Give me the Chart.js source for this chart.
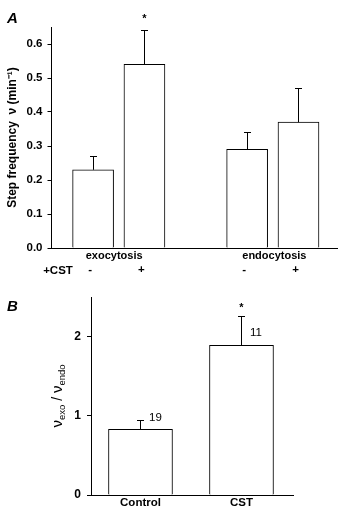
<!DOCTYPE html>
<html>
<head>
<meta charset="utf-8">
<script src="https://cdn.jsdelivr.net/npm/chart.js@4"></script>
<style>
  body { margin: 0; background: #fff; }
  canvas { position: absolute; left: 0; display: block; }
</style>
</head>
<body>
<canvas id="panel-a" width="352" height="280" style="top:0"></canvas>
<canvas id="panel-b" width="352" height="249" style="top:280px"></canvas>
<script>
// panel A: step frequency per condition
const groupLabels = ["exocytosis", "endocytosis"];
const cstSigns = ["-", "+", "-", "+"];
const barXA = [1, 2, 4, 5];
const stepFreq = [0.23, 0.54, 0.29, 0.37];
const stepFreqErr = [0.04, 0.10, 0.05, 0.10];
const ticksA = [0, 0.1, 0.2, 0.3, 0.4, 0.5, 0.6];

// panel B: exo/endo ratio
const ratioLabels = ["Control", "CST"];
const barXB = [1, 2];
const ratio = [0.83, 1.89];
const ratioErr = [0.12, 0.37];
const ratioN = ["19", "11"];
const ticksB = [0, 1, 2];

const FONT = "'Liberation Sans', Arial, Helvetica, sans-serif";
Chart.defaults.font.family = FONT;
Chart.defaults.color = "#000";

// upward error bars with a small cap
function errorBars(errs) {
  return {
    id: "errorBars",
    afterDatasetsDraw(chart) {
      const ctx = chart.ctx;
      const y = chart.scales.y;
      const vals = chart.data.datasets[0].data;
      ctx.save();
      ctx.strokeStyle = "#000";
      ctx.lineWidth = 1;
      chart.getDatasetMeta(0).data.forEach((bar, i) => {
        const x = Math.round(bar.x) + 0.5;
        const base = y.getPixelForValue(vals[i].y);
        const top = Math.round(y.getPixelForValue(vals[i].y + errs[i])) + 0.5;
        ctx.beginPath();
        ctx.moveTo(x, base);
        ctx.lineTo(x, top);
        ctx.moveTo(x - 3.5, top);
        ctx.lineTo(x + 3.5, top);
        ctx.stroke();
      });
      ctx.restore();
    }
  };
}

function text(ctx, str, x, y, font, align) {
  ctx.font = font;
  ctx.textAlign = align || "center";
  ctx.textBaseline = "middle";
  ctx.fillText(str, x, y);
}

// ---------- panel A ----------
const annotA = {
  id: "annotA",
  afterDraw(chart) {
    const ctx = chart.ctx;
    const xs = chart.scales.x;
    const bars = chart.getDatasetMeta(0).data;
    ctx.save();
    ctx.fillStyle = "#000";
    text(ctx, "A", 7, 19, "italic bold 15px " + FONT, "left");
    // group labels under each pair
    text(ctx, groupLabels[0], xs.getPixelForValue(1.41), 256, "bold 11px " + FONT);
    text(ctx, groupLabels[1], xs.getPixelForValue(4.53), 256, "bold 11px " + FONT);
    text(ctx, "+CST", 58, 271, "bold 11.5px " + FONT);
    bars.forEach((b, i) => text(ctx, cstSigns[i], b.x - 3, 270, "bold 11.5px " + FONT));
    // significance star
    ctx.font = "bold 11px " + FONT;
    ctx.textAlign = "center";
    ctx.textBaseline = "alphabetic";
    ctx.fillText("*", bars[1].x, 22);
    ctx.restore();
  }
};

new Chart(document.getElementById("panel-a").getContext("2d"), {
  type: "bar",
  data: {
    datasets: [{
      data: barXA.map((x, i) => ({ x: x, y: stepFreq[i] })),
      backgroundColor: "#fff",
      borderColor: "#000",
      borderWidth: 1,
      barThickness: 41
    }]
  },
  options: {
    responsive: false,
    animation: false,
    layout: { padding: { top: 27, right: 15, bottom: 0, left: 0 } },
    plugins: { legend: { display: false }, tooltip: { enabled: false } },
    scales: {
      x: {
        type: "linear",
        offset: false,
        min: 0.19,
        max: 5.75,
        ticks: { display: false },
        grid: { display: false },
        border: { display: true, color: "#000", width: 1 },
        afterFit: (s) => { s.height = 32; }
      },
      y: {
        min: 0,
        max: 0.65,
        afterBuildTicks: (s) => { s.ticks = ticksA.map(v => ({ value: v })); },
        ticks: {
          padding: 5,
          font: { size: 11.5, weight: "bold" },
          callback: (v) => v.toFixed(1)
        },
        grid: { drawOnChartArea: false, drawTicks: true, tickLength: 4, color: "#000" },
        border: { display: true, color: "#000", width: 1 },
        title: {
          display: true,
          text: "Step frequency  ν (min⁻¹)",
          font: { size: 12, weight: "bold" },
          padding: { top: 5, bottom: 0 }
        },
        afterFit: (s) => { s.width = 51.5; }
      }
    }
  },
  plugins: [errorBars(stepFreqErr), annotA]
});

// ---------- panel B ----------
const annotB = {
  id: "annotB",
  afterDraw(chart) {
    const ctx = chart.ctx;
    const ys = chart.scales.y;
    const ca = chart.chartArea;
    const bars = chart.getDatasetMeta(0).data;
    ctx.save();
    ctx.fillStyle = "#000";
    text(ctx, "B", 7, 26.5, "italic bold 15px " + FONT, "left");
    bars.forEach((b, i) => text(ctx, ratioLabels[i], b.x, 222.5, "bold 11.5px " + FONT));
    // n per bar
    text(ctx, ratioN[0], bars[0].x + 15, ys.getPixelForValue(0.97), "11.5px " + FONT);
    text(ctx, ratioN[1], bars[1].x + 14.5, ys.getPixelForValue(2.05), "11.5px " + FONT);
    // star
    ctx.font = "bold 11px " + FONT;
    ctx.textAlign = "center";
    ctx.textBaseline = "alphabetic";
    ctx.fillText("*", bars[1].x, 31);

    // y title: nu_exo / nu_endo
    const parts = [["ν", 15, 0], ["exo", 9.5, 3], [" / ", 14, 0], ["ν", 15, 0], ["endo", 9.5, 3]];
    let total = 0;
    parts.forEach(p => { ctx.font = p[1] + "px " + FONT; total += ctx.measureText(p[0]).width; });
    ctx.translate(57.5, (ca.top + ca.bottom) / 2);
    ctx.rotate(-Math.PI / 2);
    ctx.textAlign = "left";
    let cx = -total / 2;
    parts.forEach(p => {
      ctx.font = p[1] + "px " + FONT;
      ctx.fillText(p[0], cx, 4 + p[2]);
      cx += ctx.measureText(p[0]).width;
    });
    ctx.restore();
  }
};

new Chart(document.getElementById("panel-b").getContext("2d"), {
  type: "bar",
  data: {
    datasets: [{
      data: barXB.map((x, i) => ({ x: x, y: ratio[i] })),
      backgroundColor: "#fff",
      borderColor: "#000",
      borderWidth: 1,
      barThickness: 64
    }]
  },
  options: {
    responsive: false,
    animation: false,
    layout: { padding: { top: 17, right: 59, bottom: 0, left: 0 } },
    plugins: { legend: { display: false }, tooltip: { enabled: false } },
    scales: {
      x: {
        type: "linear",
        offset: false,
        min: 0.51,
        max: 2.51,
        ticks: { display: false },
        grid: { display: false },
        border: { display: true, color: "#000", width: 1 },
        afterFit: (s) => { s.height = 34; }
      },
      y: {
        min: 0,
        max: 2.5,
        afterBuildTicks: (s) => { s.ticks = ticksB.map(v => ({ value: v })); },
        ticks: {
          padding: 6,
          font: { size: 12, weight: "bold" },
          callback: (v) => String(v)
        },
        grid: { drawOnChartArea: false, drawTicks: true, tickLength: 4, color: "#000" },
        border: { display: true, color: "#000", width: 1 },
        afterFit: (s) => { s.width = 91; }
      }
    }
  },
  plugins: [errorBars(ratioErr), annotB]
});
</script>
</body>
</html>
